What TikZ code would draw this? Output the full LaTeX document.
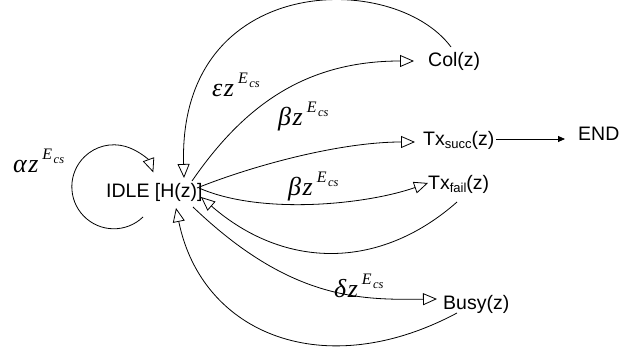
\documentclass[tikz,border=0pt]{standalone}
\usepackage{fontspec}
\setmainfont{Liberation Sans}
\newfontfamily\tms{Liberation Serif}
\usetikzlibrary{arrows.meta}
\newcommand{\glab}[1]{{\tms\itshape{\fontsize{26}{26}\selectfont #1\kern1.5pt z}\kern4pt\raisebox{13pt}{\fontsize{16}{16}\selectfont E}\raisebox{9pt}{\fontsize{12.5}{12.5}\selectfont\kern1.5pt cs}}}
\newcommand{\subtx}[1]{\raisebox{-3pt}{\fontsize{13}{13}\selectfont #1}}
\begin{document}
\begin{tikzpicture}[x=1pt,y=1pt,
  txt/.style={inner sep=0pt,anchor=base west,font=\fontsize{19.5}{21}\selectfont},
  lab/.style={inner sep=0pt,anchor=base west},
  conn/.style={line width=0.8pt,draw=black},
  otri/.style={conn,-{Triangle[open,length=14pt,width=12pt,line width=0.8pt]}},
  ftri/.style={conn,-{Triangle[length=7pt,width=6pt]}}]
\useasboundingbox (0,0) rectangle (636,-352);
% states
\node[txt] (idle) at (106,-198) {IDLE [H(z)]};
\node[txt] (col) at (428,-67) {Col(z)};
\node[txt] (txs) at (423,-146) {Tx\subtx{succ}(z)};
\node[txt] (txf) at (428,-190) {Tx\subtx{fail}(z)};
\node[txt] (busy) at (443,-309) {Busy(z)};
\node[txt] (end) at (578,-141) {END};
% labels
\node[lab] (la) at (13,-173) {\glab{α}};
\node[lab] (le) at (212,-97) {\glab{ε}};
\node[lab] (lb1) at (278,-126) {\glab{β}};
\node[lab] (lb2) at (288,-196) {\glab{β}};
\node[lab] (ld) at (334,-297) {\glab{δ}};
% self loop
\draw[otri] ([shift={(37,-19)}]idle.base west) arc[start angle=-46,end angle=-340,radius=42];
% Col
\draw[otri] ([shift={(23,20)}]col.base west) .. controls +(-57,77) and +(-6,206) .. ([shift={(78,20)}]idle.base west);
\draw[otri] ([shift={(86,17)}]idle.base west) .. controls +(51,74) and +(-110,0) .. ([shift={(-14,6)}]col.base west);
% Tx succ
\draw[otri] ([shift={(91,10)}]idle.base west) .. controls +(56,22.5) and +(-75,0) .. ([shift={(-8,4)}]txs.base west);
\draw[ftri] ([shift={(73,7)}]txs.base west) -- ([shift={(-13,2)}]end.base west);
% Tx fail
\draw[otri] ([shift={(93,10)}]idle.base west) .. controls +(61,-27) and +(-63,-22) .. ([shift={(0,7)}]txf.base west);
\draw[otri] ([shift={(29,-12)}]txf.base west) .. controls +(-77,-68) and +(84,-73) .. ([shift={(95,1)}]idle.base west);
% Busy
\draw[otri] ([shift={(87,-9)}]idle.base west) .. controls +(97,-93) and +(-77,-1) .. ([shift={(-6,10)}]busy.base west);
\draw[otri] ([shift={(14,-4)}]busy.base west) .. controls +(-132,-70.5) and +(26,-127) .. ([shift={(70,-10)}]idle.base west);
\end{tikzpicture}
\end{document}
